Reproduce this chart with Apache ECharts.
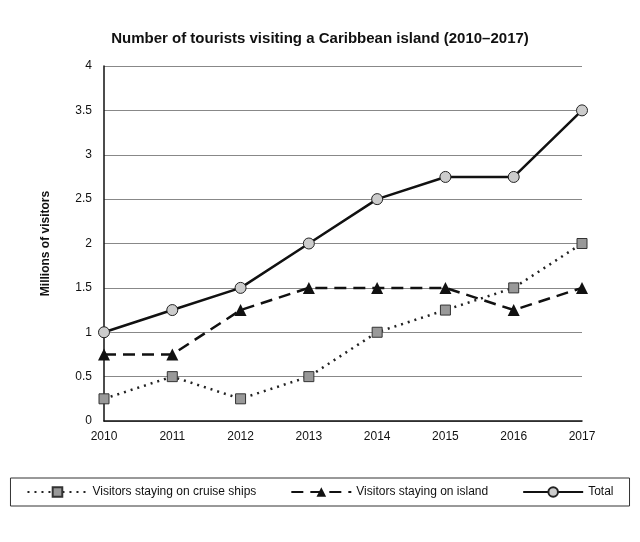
<!DOCTYPE html>
<html>
<head>
<meta charset="utf-8">
<script src="https://cdn.jsdelivr.net/npm/echarts@6/dist/echarts.min.js"></script>
</head>
<body style="margin:0;background:#fff">
<div id="main" style="width:640px;height:542px;"></div>
<script>
var years = ['2010','2011','2012','2013','2014','2015','2016','2017'];
var cruise = [0.25, 0.5, 0.25, 0.5, 1, 1.25, 1.5, 2];
var island = [0.75, 0.75, 1.25, 1.5, 1.5, 1.5, 1.25, 1.5];
var total = [1, 1.25, 1.5, 2, 2.5, 2.75, 2.75, 3.5];

var chart = echarts.init(document.getElementById('main'));
chart.setOption({
    animation: false,
    textStyle: {fontFamily: 'Liberation Sans, Arial, sans-serif', color: '#111'},
    title: {
        text: 'Number of tourists visiting a Caribbean island (2010\u20132017)',
        left: 'center', top: 26,
        textStyle: {fontSize: 15, fontWeight: 'bold', color: '#111'}
    },
    grid: {left: 104, right: 58, top: 66, bottom: 121},
    legend: {
        top: 478, left: 'center',
        padding: [8, 16],
        itemGap: 34,
        itemWidth: 60,
        itemHeight: 12,
        borderColor: '#333', borderWidth: 1,
        textStyle: {fontSize: 12, color: '#111'},
        data: ['Visitors staying on cruise ships', 'Visitors staying on island', 'Total']
    },
    xAxis: {
        type: 'category', data: years, boundaryGap: false,
        axisLine: {lineStyle: {color: '#111', width: 1.5}},
        axisTick: {show: false},
        axisLabel: {fontSize: 12, color: '#111', margin: 10}
    },
    yAxis: {
        type: 'value', min: 0, max: 4, interval: 0.5,
        name: 'Millions of visitors', nameLocation: 'middle', nameGap: 52,
        nameTextStyle: {fontSize: 12, fontWeight: 'bold', color: '#111'},
        axisLine: {show: true, lineStyle: {color: '#111', width: 1.5}},
        axisTick: {show: false},
        axisLabel: {fontSize: 12, color: '#111', margin: 12},
        splitLine: {lineStyle: {color: '#888', width: 1}}
    },
    series: [
        {
            name: 'Visitors staying on cruise ships', type: 'line', data: cruise,
            symbol: 'rect', symbolSize: 10,
            lineStyle: {color: '#222', width: 2.5, type: [2, 5]},
            itemStyle: {color: '#999', borderColor: '#333', borderWidth: 1}
        },
        {
            name: 'Visitors staying on island', type: 'line', data: island,
            symbol: 'triangle', symbolSize: 12,
            lineStyle: {color: '#111', width: 2.5, type: [12, 7]},
            itemStyle: {color: '#111'}
        },
        {
            name: 'Total', type: 'line', data: total,
            symbol: 'circle', symbolSize: 11,
            lineStyle: {color: '#111', width: 2.5},
            itemStyle: {color: '#ccc', borderColor: '#222', borderWidth: 1}
        }
    ]
});
</script>
</body>
</html>
